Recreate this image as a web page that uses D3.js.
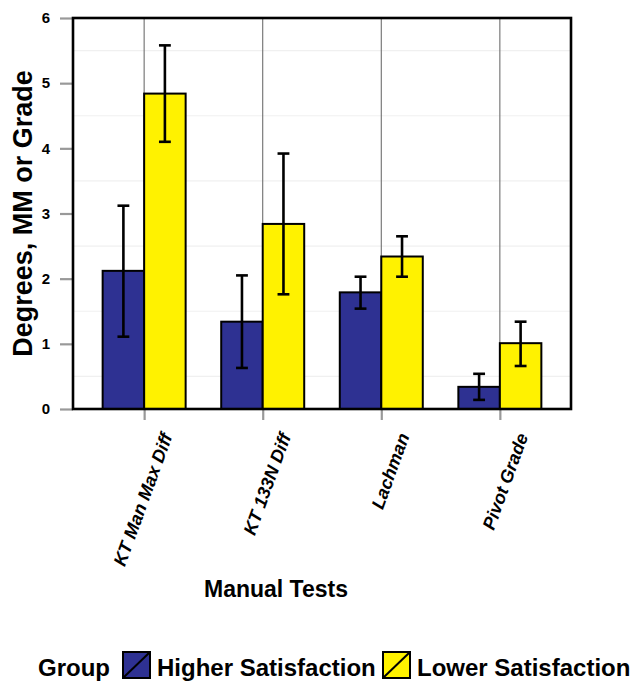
<!DOCTYPE html>
<html>
<head>
<meta charset="utf-8">
<script src="https://cdn.jsdelivr.net/npm/d3@7"></script>
<style>
  html, body { margin: 0; padding: 0; background: #fff; }
  svg { display: block; font-family: "Liberation Sans", Arial, Helvetica, sans-serif; }
</style>
</head>
<body>
<svg id="chart" width="634" height="681"></svg>
<script>
// Manual test results by satisfaction group (mean with error range)
const tests = ["KT Man Max Diff", "KT 133N Diff", "Lachman", "Pivot Grade"];
const groups = ["Higher Satisfaction", "Lower Satisfaction"];
const higherMean = [2.12, 1.34, 1.79, 0.34];
const higherLow  = [1.11, 0.63, 1.54, 0.14];
const higherHigh = [3.12, 2.05, 2.03, 0.54];
const lowerMean  = [4.84, 2.84, 2.34, 1.01];
const lowerLow   = [4.10, 1.76, 2.03, 0.66];
const lowerHigh  = [5.58, 3.92, 2.65, 1.34];
const yTicks = [0, 1, 2, 3, 4, 5, 6];
const yMinor = [0.5, 1.5, 2.5, 3.5, 4.5, 5.5];
const groupColors = ["#2e3192", "#fff200"];

const rows = [];
tests.forEach((t, i) => {
  rows.push({ test: t, group: groups[0], mean: higherMean[i], lo: higherLow[i], hi: higherHigh[i] });
  rows.push({ test: t, group: groups[1], mean: lowerMean[i], lo: lowerLow[i], hi: lowerHigh[i] });
});

const svg = d3.select("#chart");
const panel = { left: 73, right: 571, top: 18, bottom: 409 };

const x = d3.scalePoint().domain(tests).range([panel.left, panel.right]).padding(0.6);
const y = d3.scaleLinear().domain([0, 6]).range([panel.bottom, panel.top]);
const color = d3.scaleOrdinal().domain(groups).range(groupColors);
const barW = x.step() * 0.35;
const offset = d3.scaleOrdinal().domain(groups).range([-barW, 0]);
const capW = x.step() * 0.1;

// minor horizontal gridlines
svg.append("g").selectAll("line").data(yMinor).join("line")
  .attr("x1", panel.left).attr("x2", panel.right)
  .attr("y1", d => y(d)).attr("y2", d => y(d))
  .attr("stroke", "#f0f0f0").attr("stroke-width", 1.2);

// vertical gridlines at each test
svg.append("g").selectAll("line").data(tests).join("line")
  .attr("x1", d => x(d)).attr("x2", d => x(d))
  .attr("y1", panel.top).attr("y2", panel.bottom)
  .attr("stroke", "#6e6e6e").attr("stroke-width", 1.1);

// bars
svg.append("g").selectAll("rect").data(rows).join("rect")
  .attr("x", d => x(d.test) + offset(d.group))
  .attr("y", d => y(d.mean))
  .attr("width", barW)
  .attr("height", d => y(0) - y(d.mean))
  .attr("fill", d => color(d.group))
  .attr("stroke", "#000").attr("stroke-width", 2);

// error bars
const eb = svg.append("g").selectAll("g").data(rows).join("g")
  .attr("transform", d => `translate(${x(d.test) + offset(d.group) + barW / 2},0)`)
  .attr("stroke", "#000").attr("stroke-width", 2.6);
eb.append("line").attr("x1", 0).attr("x2", 0)
  .attr("y1", d => y(d.lo)).attr("y2", d => y(d.hi));
eb.append("line").attr("x1", -capW / 2).attr("x2", capW / 2)
  .attr("y1", d => y(d.hi)).attr("y2", d => y(d.hi));
eb.append("line").attr("x1", -capW / 2).attr("x2", capW / 2)
  .attr("y1", d => y(d.lo)).attr("y2", d => y(d.lo));

// y axis
const yAxis = svg.append("g")
  .attr("transform", `translate(${panel.left},0)`)
  .call(d3.axisLeft(y).tickValues(yTicks).tickFormat(d3.format("d")).tickSize(13).tickPadding(10));
yAxis.select(".domain").remove();
yAxis.selectAll(".tick line").attr("stroke", "#999").attr("stroke-width", 2.2);
yAxis.selectAll(".tick text")
  .attr("fill", "#000").style("font-size", "15px").style("font-weight", "bold");

// x axis
const xAxis = svg.append("g")
  .attr("transform", `translate(0,${panel.bottom})`)
  .call(d3.axisBottom(x).tickSize(11).tickSizeOuter(0));
xAxis.select(".domain").remove();
xAxis.selectAll(".tick line").attr("stroke", "#999").attr("stroke-width", 2.2);
xAxis.selectAll(".tick text")
  .attr("fill", "#000")
  .attr("text-anchor", "end")
  .attr("dy", null)
  .attr("y", 0)
  .attr("transform", "translate(28,27) rotate(-70)")
  .style("font-size", "18px").style("font-weight", "bold").style("font-style", "italic");

// panel border
svg.append("rect")
  .attr("x", panel.left).attr("y", panel.top)
  .attr("width", panel.right - panel.left).attr("height", panel.bottom - panel.top)
  .attr("fill", "none").attr("stroke", "#000").attr("stroke-width", 2.6);

// axis titles
svg.append("text")
  .attr("x", 276).attr("y", 597)
  .attr("text-anchor", "middle")
  .style("font-size", "23px").style("font-weight", "bold")
  .text("Manual Tests");

svg.append("text")
  .attr("transform", `translate(32,${(panel.top + panel.bottom) / 2}) rotate(-90)`)
  .attr("text-anchor", "middle")
  .style("font-size", "27px").style("font-weight", "bold")
  .text("Degrees, MM or Grade");

// legend
const legend = svg.append("g");
legend.append("text").attr("x", 38).attr("y", 676)
  .style("font-size", "24px").style("font-weight", "bold").text("Group");
const keyX = [123, 383];
const labelX = [157, 417];
groups.forEach((g, i) => {
  const k = legend.append("g").attr("transform", `translate(${keyX[i]},652)`);
  k.append("rect").attr("width", 27).attr("height", 26)
    .attr("fill", color(g)).attr("stroke", "#000").attr("stroke-width", 2);
  k.append("line").attr("x1", 1).attr("y1", 25).attr("x2", 26).attr("y2", 1)
    .attr("stroke", "#000").attr("stroke-width", 2);
  legend.append("text").attr("x", labelX[i]).attr("y", 676)
    .style("font-size", "24px").style("font-weight", "bold").text(g);
});
</script>
</body>
</html>
